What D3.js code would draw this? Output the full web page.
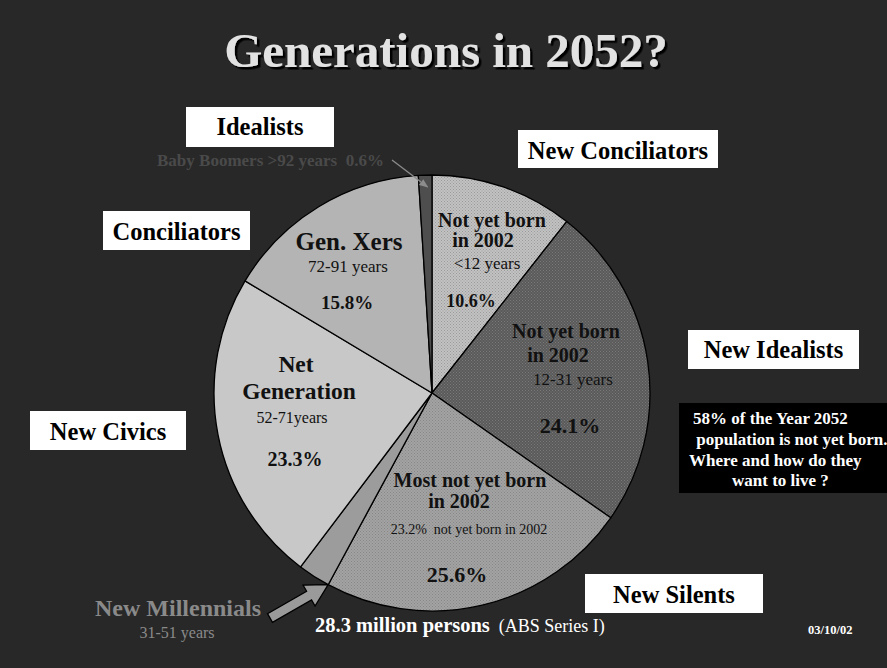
<!DOCTYPE html>
<html><head><meta charset="utf-8">
<script src="https://cdn.jsdelivr.net/npm/d3@7"></script>
<style>
html,body{margin:0;padding:0;background:#282828;}
svg{display:block;font-family:"Liberation Serif","Times New Roman",Times,serif;}
text{white-space:pre;}
</style>
</head><body>
<svg id="chart" width="887" height="668"></svg>
<script>
// ---- data ----
const generations = ["New Conciliators","New Idealists","New Silents","New Millennials","Net Generation","Gen. Xers","Baby Boomers"];
const shares = [10.6, 24.1, 23.2, 2.4, 23.3, 15.4, 1.0];          // drawn slice shares (% of 2052 population)
const percentLabels = ["10.6%","24.1%","25.6%","","23.3%","15.8%","0.6%"];
const ageLabels = ["<12 years","12-31 years","23.2%  not yet born in 2002","31-51 years","52-71years","72-91 years",">92 years"];
const titleLines = ["Not yet born|in 2002","Not yet born|in 2002","Most not yet born|in 2002","New Millennials","Net|Generation","Gen. Xers","Baby Boomers"];
const boxLabels = ["Idealists","New Conciliators","Conciliators","New Idealists","New Civics","New Silents"];
const noteLines = ["58% of the Year 2052"," population is not yet born.","Where and how do they","want to live ?"];

// ---- style / layout ----
const W = 887, H = 668;
const cx = 432, cy = 393, R = 218;
const svg = d3.select("#chart");
svg.append("rect").attr("width", W).attr("height", H).attr("fill", "#282828");

const defs = svg.append("defs");
function dotPattern(id, base, dot) {
  const p = defs.append("pattern").attr("id", id).attr("patternUnits", "userSpaceOnUse")
    .attr("width", 3).attr("height", 3);
  p.append("rect").attr("width", 3).attr("height", 3).attr("fill", base);
  p.append("rect").attr("x", 0).attr("y", 0).attr("width", 1).attr("height", 1).attr("fill", dot);
  p.append("rect").attr("x", 1.5).attr("y", 1.5).attr("width", 1).attr("height", 1).attr("fill", dot);
}
dotPattern("pConc", "#c2c2c2", "#9a9a9a");
dotPattern("pIdeal", "#5a5a5a", "#7a7a7a");
dotPattern("pSil", "#a3a3a3", "#868686");
const fills = ["url(#pConc)","url(#pIdeal)","url(#pSil)","#9c9c9c","#c8c8c8","#b4b4b4","#4e4e4e"];

const shadow = defs.append("filter").attr("id", "shadow").attr("x", "-5%").attr("y", "-20%")
  .attr("width", "115%").attr("height", "150%");
shadow.append("feDropShadow").attr("dx", 2.5).attr("dy", 2.5).attr("stdDeviation", 0.4)
  .attr("flood-color", "#000").attr("flood-opacity", 1);

// ---- title ----
svg.append("text").attr("x", 446).attr("y", 67).attr("text-anchor", "middle")
  .attr("font-size", 49).attr("font-weight", "bold").attr("fill", "#e2e2e2")
  .attr("filter", "url(#shadow)").text("Generations in 2052?");

// ---- pie ----
const pie = d3.pie().sort(null).value(d => d.share);
const arcs = pie(generations.map((g, i) => ({ name: g, share: shares[i] })));
const arc = d3.arc().innerRadius(0).outerRadius(R);
const g = svg.append("g").attr("transform", `translate(${cx},${cy})`);
g.selectAll("path").data(arcs).join("path")
  .attr("d", arc).attr("fill", (d, i) => fills[i])
  .attr("stroke", "#000").attr("stroke-width", 1.3).attr("stroke-linejoin", "round");

function polar(a, r) { return [cx + r * Math.sin(a), cy - r * Math.cos(a)]; }

// ---- in-slice labels (offsets relative to pie centre) ----
const sliceText = [
  // New Conciliators
  [[0, titleLines[0].split("|")[0], 60, -166, 20, "bold"], [0, titleLines[0].split("|")[1], 51, -146, 20, "bold"],
   [0, ageLabels[0], 55, -124, 17, "normal"], [0, percentLabels[0], 39, -86, 18, "bold"]],
  // New Idealists
  [[1, titleLines[1].split("|")[0], 134, -55, 20, "bold"], [1, titleLines[1].split("|")[1], 126, -31, 20, "bold"],
   [1, ageLabels[1], 141, -8, 17, "normal"], [1, percentLabels[1], 138, 40, 22, "bold"]],
  // New Silents
  [[2, titleLines[2].split("|")[0], 38, 94, 20, "bold"], [2, titleLines[2].split("|")[1], 27, 115, 20, "bold"],
   [2, ageLabels[2], 37, 141, 14, "normal"], [2, percentLabels[2], 25, 189, 22, "bold"]],
  // Net Generation
  [[4, titleLines[4].split("|")[0], -136, -21, 23.5, "bold"], [4, titleLines[4].split("|")[1], -133, 6, 23.5, "bold"],
   [4, ageLabels[4], -140, 30, 16, "normal"], [4, percentLabels[4], -137, 73, 20, "bold"]],
  // Gen Xers
  [[5, titleLines[5], -83, -143, 25, "bold"], [5, ageLabels[5], -84, -121, 17, "normal"],
   [5, percentLabels[5], -85, -84, 19, "bold"]]
];
sliceText.flat().forEach(([i, t, dx, dy, fs, fw]) => {
  svg.append("text").attr("x", cx + dx).attr("y", cy + dy).attr("text-anchor", "middle")
    .attr("font-size", fs).attr("font-weight", fw).attr("fill", "#111").text(t);
});

// ---- white boxed generation names ----
const boxes = [
  [boxLabels[0], 186, 107, 148, 40, 135],
  [boxLabels[1], 518, 130, 200, 38, 159],
  [boxLabels[2], 103, 211, 147, 39, 240],
  [boxLabels[3], 688, 330, 171, 39, 358],
  [boxLabels[4], 30, 411, 156, 39, 440],
  [boxLabels[5], 585, 574, 178, 39, 603]
];
boxes.forEach(([t, x, y, w, h, by]) => {
  svg.append("rect").attr("x", x).attr("y", y).attr("width", w).attr("height", h).attr("fill", "#fff");
  svg.append("text").attr("x", x + w / 2).attr("y", by).attr("text-anchor", "middle")
    .attr("font-size", 24.5).attr("font-weight", "bold").attr("fill", "#000").text(t);
});

// ---- Baby Boomers callout ----
defs.append("marker").attr("id", "ah").attr("viewBox", "0 0 10 10").attr("refX", 9).attr("refY", 5)
  .attr("markerWidth", 7).attr("markerHeight", 7).attr("orient", "auto")
  .append("path").attr("d", "M0,1 L10,5 L0,9 z").attr("fill", "#8c8c8c");
svg.append("text").attr("x", 157).attr("y", 166).attr("font-size", 17).attr("font-weight", "bold")
  .attr("fill", "#4a4a4a").text(`${generations[6]} ${ageLabels[6]}  ${percentLabels[6]}`);
const bb = arcs[6];
const bTip = polar((bb.startAngle + bb.endAngle) / 2 + 0.01, R - 12);
svg.append("line").attr("x1", 392).attr("y1", 160).attr("x2", bTip[0]).attr("y2", bTip[1])
  .attr("stroke", "#8c8c8c").attr("stroke-width", 1.3).attr("marker-end", "url(#ah)");

// ---- New Millennials callout (block arrow pointing at slice edge) ----
const nm = arcs[3];
const tip = polar(nm.startAngle, R);
const ang = Math.atan2(tip[1] - 618, tip[0] - 270) * 180 / Math.PI;
const L = Math.hypot(tip[0] - 270, tip[1] - 618);
const sw = 5, hw = 12, hl = 22;
svg.append("path")
  .attr("d", `M0,0 L${-hl},${-hw} L${-hl},${-sw} L${-L},${-sw} L${-L},${sw} L${-hl},${sw} L${-hl},${hw} Z`)
  .attr("transform", `translate(${tip[0]},${tip[1]}) rotate(${ang})`)
  .attr("fill", "#9a9a9a").attr("stroke", "#000").attr("stroke-width", 1.3).attr("stroke-linejoin", "miter");
svg.append("text").attr("x", 178).attr("y", 616).attr("text-anchor", "middle").attr("font-size", 24)
  .attr("font-weight", "bold").attr("fill", "#8a8a8a").text(generations[3]);
svg.append("text").attr("x", 177).attr("y", 638).attr("text-anchor", "middle").attr("font-size", 16)
  .attr("fill", "#8a8a8a").text(ageLabels[3]);

// ---- note box ----
svg.append("rect").attr("x", 679).attr("y", 403).attr("width", 208).attr("height", 90).attr("fill", "#000");
const noteX = [693, 692, 689, 732];
noteLines.forEach((t, i) => {
  svg.append("text").attr("x", noteX[i]).attr("y", 424 + i * 20.8).attr("font-size", 17)
    .attr("font-weight", "bold").attr("fill", "#fff").text(t);
});

// ---- footer ----
const foot = svg.append("text").attr("x", 315).attr("y", 632).attr("fill", "#fff");
foot.append("tspan").attr("font-size", 20.5).attr("font-weight", "bold").text("28.3 million persons");
foot.append("tspan").attr("font-size", 18).text("  (ABS Series I)");
svg.append("text").attr("x", 808).attr("y", 634).attr("font-size", 12.5).attr("font-weight", "bold")
  .attr("fill", "#fff").text("03/10/02");
</script>
</body></html>
